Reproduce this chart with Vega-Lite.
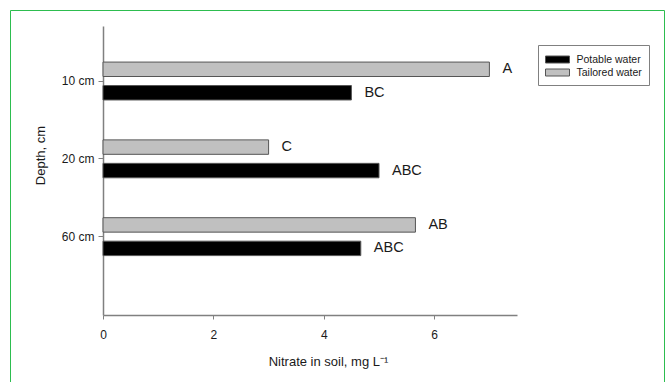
{
  "$schema": "https://vega.github.io/schema/vega-lite/v6.json",
  "width": 654,
  "height": 373,
  "autosize": {"type": "none"},
  "padding": {"left": 10, "top": 10, "right": 4, "bottom": -1},
  "background": "white",
  "config": {
    "font": "Liberation Sans",
    "view": {"stroke": "#2dbd4f", "strokeWidth": 1},
    "axis": {
      "domainColor": "#808080",
      "domainWidth": 1.5,
      "tickColor": "#808080",
      "tickWidth": 1,
      "labelColor": "#1a1a1a",
      "titleColor": "#1a1a1a",
      "labelFont": "Liberation Sans",
      "titleFont": "Liberation Sans",
      "titleFontWeight": "normal",
      "labelFlush": false,
      "grid": false
    },
    "legend": {
      "orient": "none",
      "legendX": 528,
      "legendY": 35,
      "strokeColor": "#808080",
      "fillColor": "white",
      "padding": 7,
      "rowPadding": 0,
      "labelFontSize": 10.5,
      "labelColor": "#1a1a1a",
      "labelFont": "Liberation Sans",
      "labelBaseline": "middle",
      "symbolType": "M-1,-0.5H2.43V0.5H-1Z",
      "symbolSize": 196,
      "symbolStrokeColor": "#555555",
      "symbolStrokeWidth": 1,
      "labelOffset": 16.5
    }
  },
  "data": {
    "values": [
      {"depth": "10 cm", "water": "Tailored water", "nitrate": 7.0, "letter": "A"},
      {"depth": "10 cm", "water": "Potable water", "nitrate": 4.5, "letter": "BC"},
      {"depth": "20 cm", "water": "Tailored water", "nitrate": 3.0, "letter": "C"},
      {"depth": "20 cm", "water": "Potable water", "nitrate": 5.0, "letter": "ABC"},
      {"depth": "60 cm", "water": "Tailored water", "nitrate": 5.66, "letter": "AB"},
      {"depth": "60 cm", "water": "Potable water", "nitrate": 4.67, "letter": "ABC"}
    ]
  },
  "encoding": {
    "y": {
      "field": "depth",
      "type": "nominal",
      "scale": {
        "domain": ["10 cm", "20 cm", "60 cm"],
        "range": [16, 305],
        "paddingInner": 0,
        "paddingOuter": 0.357,
        "align": 0.29
      },
      "axis": {
        "offset": -93,
        "tickSize": 5,
        "labelFontSize": 12,
        "labelPadding": 4,
        "title": "Depth, cm",
        "titleFontSize": 13,
        "titleAngle": -90,
        "titleX": -63,
        "titleY": 145,
        "titleAlign": "center",
        "titleBaseline": "middle"
      }
    },
    "yOffset": {
      "field": "water",
      "type": "nominal",
      "scale": {
        "domain": ["Tailored water", "Potable water"],
        "paddingInner": 0.385,
        "paddingOuter": 0.85
      }
    },
    "x": {
      "field": "nitrate",
      "type": "quantitative",
      "scale": {"domain": [0, 7.5], "range": [93, 507], "nice": false, "zero": true},
      "axis": {
        "offset": -68,
        "values": [0, 2, 4, 6],
        "tickSize": 4,
        "labelFontSize": 12,
        "labelPadding": 10,
        "title": "Nitrate in soil, mg L⁻¹",
        "titleFontSize": 13,
        "titleX": 318,
        "titleY": 40,
        "titleAlign": "center",
        "titleBaseline": "top"
      }
    }
  },
  "layer": [
    {
      "mark": {"type": "bar", "stroke": "#555555", "strokeWidth": 1},
      "encoding": {
        "color": {
          "field": "water",
          "type": "nominal",
          "scale": {"domain": ["Potable water", "Tailored water"], "range": ["#000000", "#c0c0c0"]},
          "legend": {"title": null}
        }
      }
    },
    {
      "mark": {"type": "text", "align": "left", "baseline": "middle", "dx": 13, "fontSize": 14.5, "color": "#1a1a1a", "font": "Liberation Sans"},
      "encoding": {"text": {"field": "letter"}}
    }
  ]
}
